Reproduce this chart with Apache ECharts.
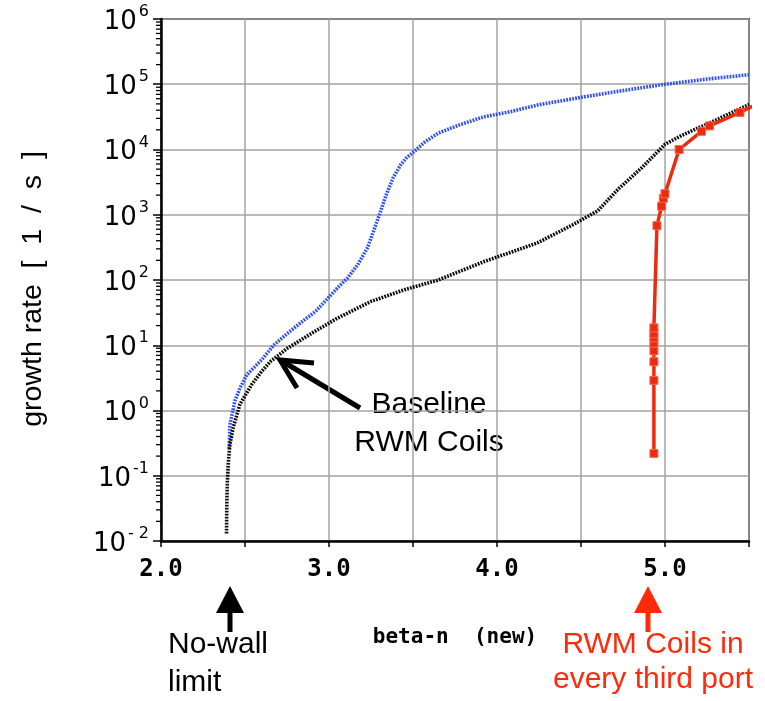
<!DOCTYPE html>
<html>
<head>
<meta charset="utf-8">
<script src="https://cdn.jsdelivr.net/npm/echarts@6/dist/echarts.min.js"></script>
<style>html,body{margin:0;padding:0;background:#fff}#c{width:765px;height:701px}</style>
</head>
<body>
<div id="c"></div>
<script>
// ---- data ----
const blueX = [2.405, 2.41, 2.44, 2.47, 2.51, 2.6, 2.67, 2.75, 2.83, 2.92, 3.0, 3.06, 3.11, 3.17, 3.23, 3.30, 3.34, 3.38, 3.426, 3.46, 3.5, 3.57, 3.65, 3.78, 3.92, 4.08, 4.24, 4.5, 4.75, 5.0, 5.25, 5.5];
const blueY = [0.26, 0.6, 1.4, 2.2, 3.5, 6, 10, 15, 22, 33, 55, 80, 107, 170, 316, 1000, 2000, 3600, 5800, 7400, 9000, 13000, 17800, 24000, 31600, 38000, 48000, 63000, 80000, 100000, 120000, 140000];

const blackX = [2.39, 2.392, 2.395, 2.40, 2.41, 2.43, 2.47, 2.54, 2.6, 2.65, 2.75, 2.91, 3.05, 3.25, 3.45, 3.65, 3.92, 4.24, 4.45, 4.6, 4.72, 4.86, 5.0, 5.1, 5.25, 5.4, 5.5];
const blackY = [0.013, 0.04, 0.08, 0.15, 0.3, 0.55, 1.25, 2.5, 4.0, 5.6, 8.9, 16, 26, 47, 71, 100, 190, 370, 700, 1150, 2450, 5200, 12000, 16500, 24500, 37000, 49000];

const redX = [4.934, 4.934, 4.934, 4.934, 4.934, 4.934, 4.934, 4.934, 4.952, 4.98, 4.99, 5.0, 5.084, 5.217, 5.265, 5.446, 5.52];
const redY = [0.22, 2.9, 5.6, 8.2, 10.8, 13, 15, 18.5, 680, 1350, 1780, 2100, 10000, 19000, 23000, 37000, 46000];

const xTickLabels = {2: '2.0', 3: '3.0', 4: '4.0', 5: '5.0'};
const yExpLabels = ['- 2', '-1', '0', '1', '2', '3', '4', '5', '6'];
const minorMult = [2, 3, 4, 5, 6, 7, 8, 9];
const decades = [-2, -1, 0, 1, 2, 3, 4, 5];

const zip = (xs, ys) => xs.map((x, i) => [x, ys[i]]);
const minorTicks = [];
decades.forEach(d => minorMult.forEach(m => minorTicks.push([2.0, m * Math.pow(10, d)])));

const RED = '#ec2a0c';
const TXTRED = '#ff2a0a';
const chart = echarts.init(document.getElementById('c'));
chart.setOption({
  animation: false,
  backgroundColor: '#fff',
  grid: { left: 161, right: 16, top: 19, bottom: 160, show: true, borderColor: '#333', borderWidth: 2 },
  xAxis: {
    type: 'value', min: 2.0, max: 5.5, interval: 0.5,
    name: 'beta-n  (new)', nameLocation: 'middle', nameGap: 86,
    nameTextStyle: { fontFamily: 'DejaVu Sans Mono', fontWeight: 'bold', fontSize: 21, color: '#000' },
    axisLine: { lineStyle: { color: '#000', width: 2.5 } },
    axisTick: { show: true, length: 6, lineStyle: { color: '#000', width: 1.5 } },
    axisLabel: {
      margin: 17, color: '#000', fontFamily: 'DejaVu Sans Mono', fontWeight: 'bold', fontSize: 24,
      formatter: v => xTickLabels[v] || ''
    },
    splitLine: { show: true, lineStyle: { color: '#a3a3a3', width: 1.5 } }
  },
  yAxis: {
    type: 'log', logBase: 10, min: 0.01, max: 1e6, splitNumber: 8,
    name: 'growth rate  [  1  /  s  ]', nameLocation: 'middle', nameGap: 113,
    nameTextStyle: { fontFamily: 'Liberation Sans', fontSize: 28.5, color: '#000', padding: [0, 18, 0, 0] },
    axisLine: { show: true, lineStyle: { color: '#000', width: 2.5 } },
    axisTick: { show: true, length: 8, lineStyle: { color: '#000', width: 1.5 } },
    axisLabel: {
      margin: 12, color: '#000',
      formatter: v => {
        const e = Math.round(Math.log10(v));
        return '{b|10}{s|' + yExpLabels[e + 2] + '}';
      },
      rich: {
        b: { fontFamily: 'DejaVu Sans', fontSize: 26, color: '#000', lineHeight: 30, padding: [6, 0, 0, 0] },
        s: { fontFamily: 'DejaVu Sans', fontSize: 16, color: '#000', verticalAlign: 'top', lineHeight: 30, padding: [0, 0, 0, 2] }
      }
    },
    splitLine: { show: true, lineStyle: { color: '#a3a3a3', width: 1.5 } }
  },
  series: [
    {
      type: 'custom', coordinateSystem: 'cartesian2d', clip: false, silent: true, z: 5,
      data: minorTicks,
      renderItem: (params, api) => {
        const p = api.coord([api.value(0), api.value(1)]);
        return { type: 'line', shape: { x1: p[0] - 5, y1: p[1], x2: p[0], y2: p[1] }, style: { stroke: '#000', lineWidth: 1.3 } };
      }
    },
    {
      name: 'blue', type: 'line', data: zip(blueX, blueY), showSymbol: false, z: 2,
      lineStyle: { color: '#2f4ff0', width: 3.6, type: [1.8, 1.2] }
    },
    {
      name: 'black', type: 'line', data: zip(blackX, blackY), showSymbol: false, z: 3,
      lineStyle: { color: '#0a0a0a', width: 3.6, type: [1.8, 1.2] }
    },
    {
      name: 'red', type: 'line', data: zip(redX, redY), z: 4,
      symbol: 'rect', symbolSize: 8,
      lineStyle: { color: RED, width: 3.5 },
      itemStyle: { color: RED, borderColor: '#f26a55', borderWidth: 1 }
    }
  ],
  graphic: [
    { type: 'text', style: { x: 429, y: 386, text: 'Baseline\nRWM Coils', textAlign: 'center', textVerticalAlign: 'top', fontFamily: 'Liberation Sans', fontSize: 30, lineHeight: 38, fill: '#000' } },
    { type: 'line', shape: { x1: 360, y1: 408, x2: 282, y2: 361 }, style: { stroke: '#000', lineWidth: 5 } },
    { type: 'polyline', shape: { points: [[314, 363], [280, 360], [297, 388]] }, style: { stroke: '#000', lineWidth: 5, fill: null } },
    { type: 'text', style: { x: 168, y: 626, text: 'No-wall\nlimit', textAlign: 'left', textVerticalAlign: 'top', fontFamily: 'Liberation Sans', fontSize: 30, lineHeight: 38, fill: '#000' } },
    { type: 'polygon', shape: { points: [[230, 586], [216, 613], [244, 613]] }, style: { fill: '#000' } },
    { type: 'rect', shape: { x: 227.5, y: 608, width: 5, height: 24 }, style: { fill: '#000' } },
    { type: 'text', style: { x: 653, y: 627, text: 'RWM Coils in\nevery third port', textAlign: 'center', textVerticalAlign: 'top', fontFamily: 'Liberation Sans', fontSize: 30, lineHeight: 35, fill: TXTRED } },
    { type: 'polygon', shape: { points: [[648, 586], [634, 613], [662, 613]] }, style: { fill: TXTRED } },
    { type: 'rect', shape: { x: 645.5, y: 608, width: 5, height: 24 }, style: { fill: TXTRED } }
  ]
});
</script>
</body>
</html>
